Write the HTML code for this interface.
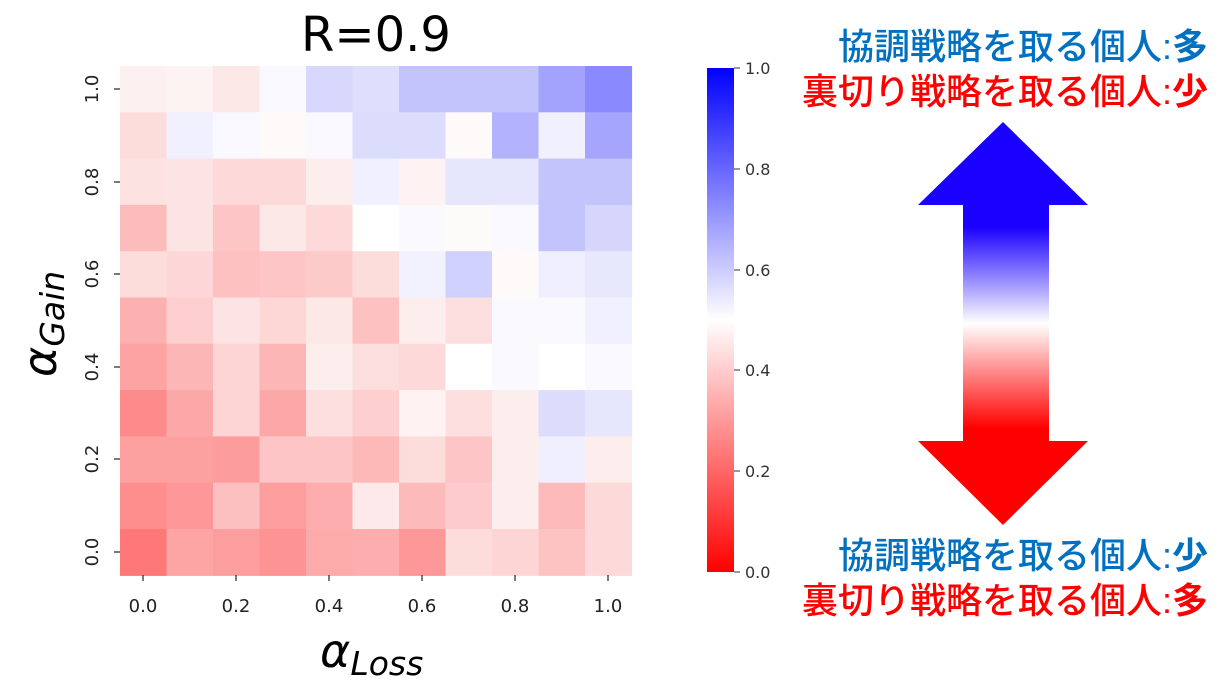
<!DOCTYPE html>
<html><head><meta charset="utf-8"><style>
html,body{margin:0;padding:0;background:#fff;}
svg{display:block}
</style></head><body>
<svg width="1231" height="697" xmlns="http://www.w3.org/2000/svg">
<defs>
<linearGradient id="cb" x1="0" y1="1" x2="0" y2="0">
<stop offset="0" stop-color="#ff0000"/><stop offset="0.5" stop-color="#ffffff"/><stop offset="1" stop-color="#0000ff"/>
</linearGradient>
<linearGradient id="ar" x1="0" y1="122" x2="0" y2="525" gradientUnits="userSpaceOnUse">
<stop offset="0" stop-color="#1a00ff"/><stop offset="0.26" stop-color="#1a00ff"/>
<stop offset="0.5" stop-color="#ffffff"/>
<stop offset="0.76" stop-color="#ff0000"/><stop offset="1" stop-color="#ff0000"/>
</linearGradient>
</defs>
<text x="376" y="51" font-family="DejaVu Sans, sans-serif" font-size="48" text-anchor="middle" fill="#000">R=0.9</text>
<g id="heat"></g>
<g font-family="DejaVu Sans, sans-serif" font-size="18" fill="#222" text-anchor="middle">
<text x="143" y="612">0.0</text><text x="236" y="612">0.2</text><text x="329" y="612">0.4</text><text x="422" y="612">0.6</text><text x="515" y="612">0.8</text><text x="608" y="612">1.0</text>
<g stroke="#222" stroke-width="1.2">
<line x1="143" y1="575" x2="143" y2="581"/><line x1="236" y1="575" x2="236" y2="581"/><line x1="329" y1="575" x2="329" y2="581"/><line x1="422" y1="575" x2="422" y2="581"/><line x1="515" y1="575" x2="515" y2="581"/><line x1="608" y1="575" x2="608" y2="581"/>
<line x1="114" y1="89" x2="120" y2="89"/><line x1="114" y1="182" x2="120" y2="182"/><line x1="114" y1="274" x2="120" y2="274"/><line x1="114" y1="367" x2="120" y2="367"/><line x1="114" y1="459" x2="120" y2="459"/><line x1="114" y1="552" x2="120" y2="552"/>
</g>
<text transform="translate(98,89) rotate(-90)">1.0</text>
<text transform="translate(98,182) rotate(-90)">0.8</text>
<text transform="translate(98,274) rotate(-90)">0.6</text>
<text transform="translate(98,367) rotate(-90)">0.4</text>
<text transform="translate(98,459) rotate(-90)">0.2</text>
<text transform="translate(98,552) rotate(-90)">0.0</text>
</g>
<text x="320" y="667" font-family="DejaVu Sans, sans-serif" font-style="italic" font-size="46" fill="#000">α<tspan font-size="33" dy="8">Loss</tspan></text>
<text transform="translate(56,377) rotate(-90)" font-family="DejaVu Sans, sans-serif" font-style="italic" font-size="46" fill="#000">α<tspan font-size="33" dy="8">Gain</tspan></text>
<rect x="707" y="68" width="27" height="504" fill="url(#cb)"/>
<g font-family="DejaVu Sans, sans-serif" font-size="15" fill="#333" stroke="#333">
<line x1="734" y1="68" x2="740" y2="68"/><line x1="734" y1="169" x2="740" y2="169"/><line x1="734" y1="270" x2="740" y2="270"/><line x1="734" y1="370" x2="740" y2="370"/><line x1="734" y1="471" x2="740" y2="471"/><line x1="734" y1="572" x2="740" y2="572"/>
</g>
<g font-family="DejaVu Sans, sans-serif" font-size="16" fill="#333">
<text x="745" y="74">1.0</text><text x="745" y="175">0.8</text><text x="745" y="276">0.6</text><text x="745" y="376">0.4</text><text x="745" y="477">0.2</text><text x="745" y="578">0.0</text>
</g>
<polygon points="1003,122 1088,205 1049,205 1049,441 1088,441 1003,525 918,441 963,441 963,205 918,205" fill="url(#ar)"/>
<g font-family="'Liberation Sans','Noto Sans CJK JP',sans-serif" font-size="36" font-weight="500" text-anchor="end">
<text x="1208" y="59" fill="#0070c0">協調戦略を取る個人:<tspan font-weight="bold">多</tspan></text>
<text x="1208" y="104" fill="#ff0000">裏切り戦略を取る個人:<tspan font-weight="bold">少</tspan></text>
<text x="1208" y="568" fill="#0070c0">協調戦略を取る個人:<tspan font-weight="bold">少</tspan></text>
<text x="1208" y="613" fill="#ff0000">裏切り戦略を取る個人:<tspan font-weight="bold">多</tspan></text>
</g>
</svg>
<script>
var rows=[
"fdf0f0 fef3f3 fde8e8 f8f8fe d8d8fc dedefd c4c4fc c4c4fc c4c4fc a3a3fd 8a8afe",
"fddcdc f0f0fe f8f8fe fefafa f8f8fe dcdcfc dcdcfc fefafa b2b2fd f0f0fe a5a5fd",
"fde2e2 fde4e4 fdd9d9 fdd9d9 fdeeee f0f0fe fef2f2 e6e6fd e6e6fd c4c4fc c4c4fc",
"fdbcbc fde4e4 fdc5c5 fde8e8 fdd9d9 ffffff f9f9fe fdfafa f9f9fe c4c4fc d6d6fc",
"fddcdc fdd7d7 fdc1c1 fdc5c5 fdcaca fddcdc f2f2fe d0d0fd fefafa efeffe e8e8fd",
"fdb0b0 fdcfcf fde4e4 fdd6d6 fde8e8 fdc1c1 fdeeee fddede f9f9fe f9f9fe f0f0fe",
"fda3a3 fdb6b6 fdd5d5 fdb6b6 fdeeee fddede fdd9d9 ffffff f9f9fe ffffff f9f9fe",
"fe8b8b fda8a8 fdd5d5 fda8a8 fddfdf fdcfcf fef2f2 fddfdf fdeeee dcdcfc e6e6fd",
"fda0a0 fda0a0 fd9c9c fdc5c5 fdc5c5 fdb8b8 fddcdc fdc5c5 fdeeee efeffe fdeeee",
"fe8e8e fe9797 fdc0c0 fd9e9e fdadad fde9e9 fdbaba fdcbcb fdeeee fdbaba fddada",
"fe7878 fda4a4 fd9e9e fe9393 fdaaaa fdadad fe9797 fddcdc fdd5d5 fdc3c3 fdd9d9"];
var g=document.getElementById('heat'),ns='http://www.w3.org/2000/svg';
var w=46.5,h=46.3;
rows.forEach(function(r,i){r.split(' ').forEach(function(c,j){
var e=document.createElementNS(ns,'rect');
e.setAttribute('x',(120+j*w).toFixed(2));e.setAttribute('y',(66+i*h).toFixed(2));
e.setAttribute('width',w+0.6);e.setAttribute('height',h+0.6);e.setAttribute('fill','#'+c);g.appendChild(e);});});
</script>
</body></html>
